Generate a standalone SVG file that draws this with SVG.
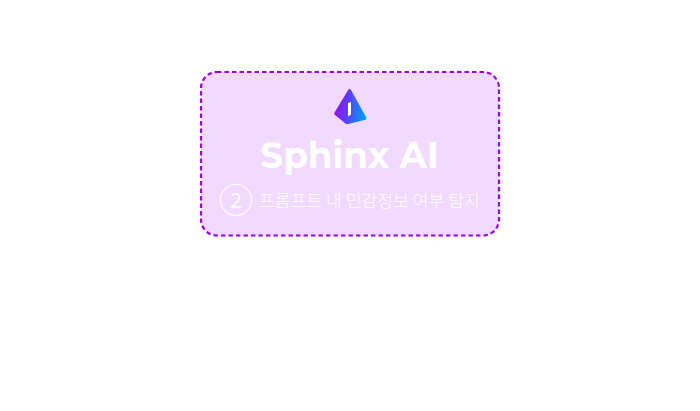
<svg xmlns="http://www.w3.org/2000/svg" width="700" height="411" viewBox="0 0 700 411">
<style>
.t{fill:#fff;font-family:"Noto Sans CJK KR","Noto Sans",sans-serif}
</style>
<defs>
<linearGradient id="g" x1="0" y1="0" x2="1" y2="0.15"><stop offset="0" stop-color="#a800f0"/><stop offset="0.5" stop-color="#5a40f8"/><stop offset="1" stop-color="#0098f5"/></linearGradient>
</defs>
<rect width="700" height="411" fill="#fff"/>
<g id="sphinx-node">
<rect x="201" y="72" width="298" height="163.500" rx="16" ry="16" fill="#f1d9ff" stroke="#9c00f5" stroke-width="2.200" stroke-dasharray="4.500 3"/>
<path d="M348.500 89.500 Q349.800 88.500 351 90 L366 117 Q367 119.500 364.500 120 L348 124 Q346.500 124.300 345.500 123.500 L335 115 Q333.500 113.800 334.500 112.500 Z" fill="url(#g)"/>
<path d="M348 103 L351 102 L351 114.500 L348 116.500 Z" fill="#fff"/>
<text class="t" x="349.500" y="168" text-anchor="middle" font-size="35.800" font-weight="700" style="font-family:Montserrat,'Noto Sans',sans-serif">Sphinx AI</text>
<circle cx="236" cy="200" r="15.500" fill="none" stroke="#fff" stroke-width="1.200"/>
<text class="t" x="236" y="208" text-anchor="middle" font-size="21" font-weight="400">2</text>
<text class="t" x="259" y="207" font-size="17.200" font-weight="300">프롬프트 내 민감정보 여부 탐지</text>
</g>
<g id="connectors"></g>
</svg>
